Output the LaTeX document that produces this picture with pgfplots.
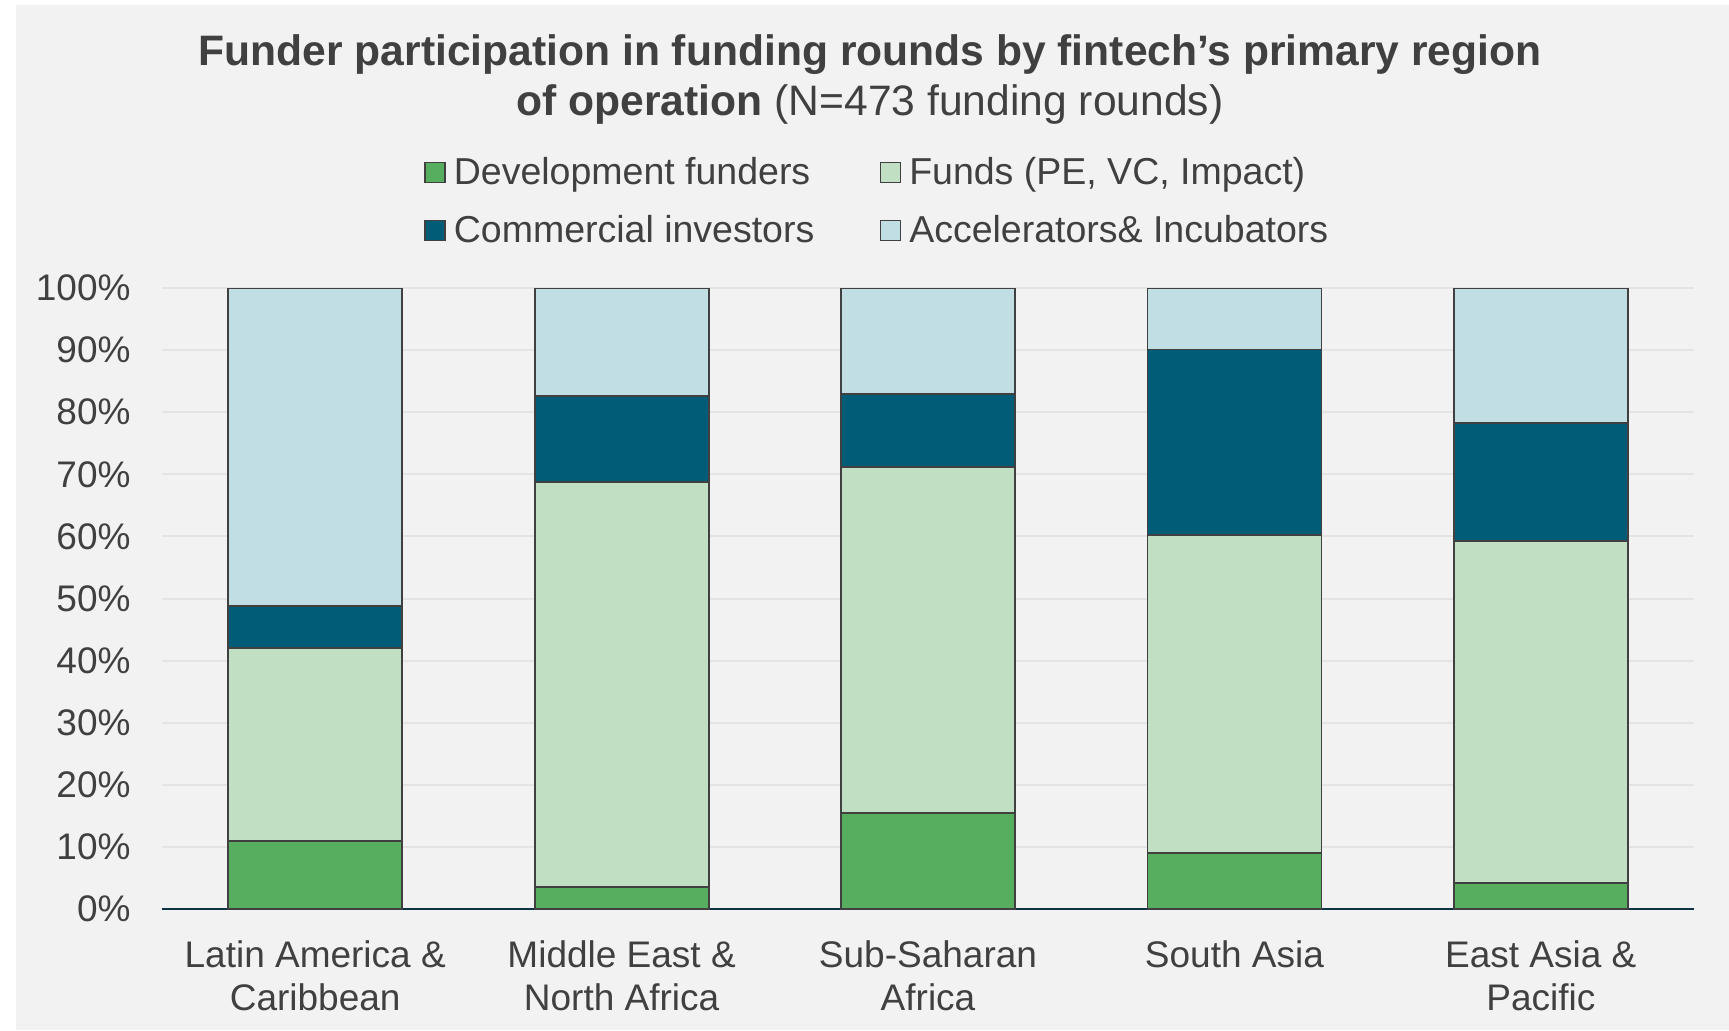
\documentclass[border=0pt]{standalone}
\usepackage{pgfplots}
\pgfplotsset{compat=1.18}
\usepackage{fontspec}
\setmainfont{Liberation Sans}
\definecolor{devg}{RGB}{87,174,95}
\definecolor{fundg}{RGB}{192,223,195}
\definecolor{comm}{RGB}{0,92,119}
\definecolor{acc}{RGB}{192,222,228}
\definecolor{bg}{RGB}{242,242,242}
\definecolor{txt}{RGB}{64,64,64}
\definecolor{gridc}{RGB}{228,228,228}
\definecolor{axl}{RGB}{12,52,68}
\begin{document}
\begin{tikzpicture}
\fill[white] (0,0) rectangle (864.5pt,515pt);
\fill[bg] (8pt,0) rectangle (864.5pt,512.5pt);
\node[font=\fontsize{21.3}{25}\selectfont\bfseries, text=txt] at (435pt,487.5pt) {Funder participation in funding rounds by fintech’s primary region};
\node[font=\fontsize{21.3}{25}\selectfont, text=txt] at (435pt,463pt) {\textbf{of operation} (N=473 funding rounds)};
\begin{axis}[
  at={(81pt,60.5pt)}, anchor=south west, scale only axis,
  width=766pt, height=310.5pt,
  ybar stacked, bar width=87pt,
  xmin=-0.5, xmax=4.5, ymin=0, ymax=100,
  xtick={0,1,2,3,4},
  xticklabels={Latin America \&\\Caribbean, Middle East \&\\North Africa, Sub-Saharan\\Africa, South Asia, East Asia \&\\Pacific},
  ytick={0,10,...,100},
  yticklabel={\pgfmathprintnumber{\tick}\%},
  /pgf/number format/assume math mode=true,
  ymajorgrids, grid style={gridc, line width=1pt},
  axis x line*=bottom, axis y line*=left,
  y axis line style={draw=none},
  x axis line style={axl, line width=1.2pt, -},
  major tick length=0pt,
  tick label style={font=\fontsize{18.5}{21.5}\selectfont, text=txt},
  yticklabel style={xshift=-12.2pt},
  xticklabel style={align=center, yshift=-12.3pt},
  every axis plot/.append style={draw=txt, line width=0.9pt},
  legend columns=2,
  legend cell align=left,
  legend image code/.code={\draw[#1, draw=txt, line width=0.6pt] (0pt,-5pt) rectangle (10pt,5pt);},
  legend style={at={(0.1710,1.2205)}, anchor=north west, draw=none, fill=none, inner sep=0pt,
    font=\fontsize{18.75}{21.5}\selectfont, text=txt,
    nodes={inner xsep=2.5pt, inner ysep=3pt},
    /tikz/every odd column/.append style={column sep=1.65pt},
    /tikz/every even column/.append style={column sep=30.2pt},
    row sep=7.75pt},
]
\addplot[fill=devg] coordinates {(0,11.0) (1,3.5) (2,15.4) (3,9.0) (4,4.2)};
\addplot[fill=fundg] coordinates {(0,31.0) (1,65.2) (2,55.8) (3,51.2) (4,55.1)};
\addplot[fill=comm] coordinates {(0,6.8) (1,13.9) (2,11.7) (3,29.9) (4,19.0)};
\addplot[fill=acc] coordinates {(0,51.2) (1,17.4) (2,17.1) (3,9.9) (4,21.7)};
\legend{Development funders, Funds (PE{,} VC{,} Impact), Commercial investors, Accelerators\& Incubators}
\end{axis}
\end{tikzpicture}
\end{document}
